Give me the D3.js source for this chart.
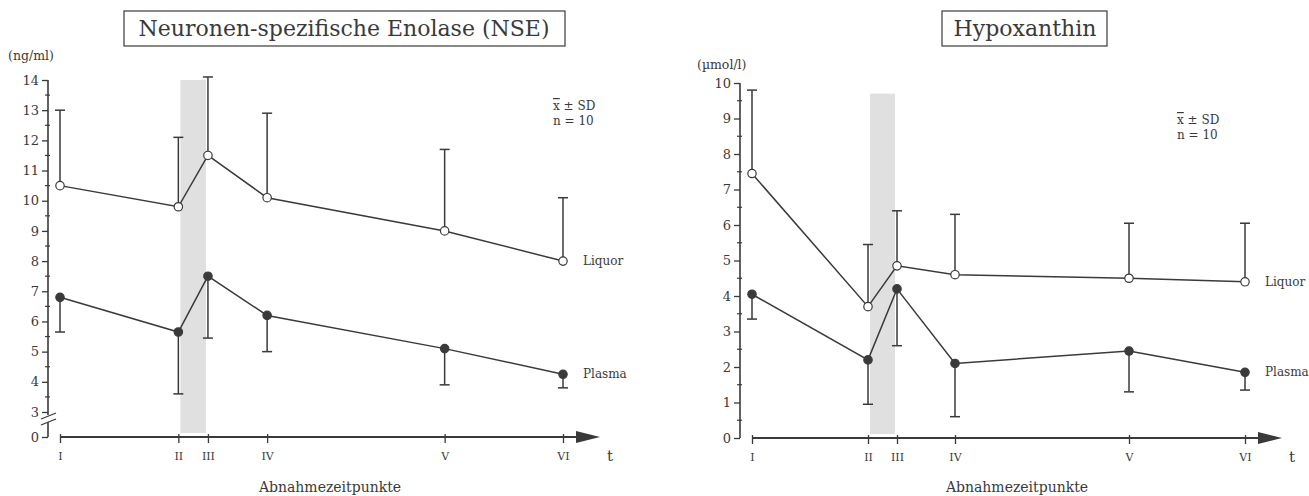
<!DOCTYPE html>
<html>
<head>
<meta charset="utf-8">
<script src="https://cdn.jsdelivr.net/npm/d3@7"></script>
<style>
  body { margin: 0; background: #fff; }
  text { font-family: "DejaVu Serif", "Liberation Serif", serif; fill: #3a3a3a; }
</style>
</head>
<body>
<div id="chart"></div>
<script>
// Abnahmezeitpunkte (sampling times), spaced by relative time
var timeLabels = ["I", "II", "III", "IV", "V", "VI"];
var timePos = [0, 4, 5, 7, 13, 17];

// NSE [ng/ml], mean and SD
var nseLiquor = [10.5, 9.8, 11.5, 10.1, 9.0, 8.0];
var nseLiquorSD = [2.5, 2.3, 2.6, 2.8, 2.7, 2.1];
var nsePlasma = [6.8, 5.65, 7.5, 6.2, 5.1, 4.25];
var nsePlasmaSD = [1.15, 2.05, 2.05, 1.2, 1.2, 0.45];

// Hypoxanthin [µmol/l], mean and SD
var hypLiquor = [7.45, 3.7, 4.85, 4.6, 4.5, 4.4];
var hypLiquorSD = [2.35, 1.75, 1.55, 1.7, 1.55, 1.65];
var hypPlasma = [4.05, 2.2, 4.2, 2.1, 2.45, 1.85];
var hypPlasmaSD = [0.7, 1.25, 1.6, 1.5, 1.15, 0.5];

var nseTicks = [0, 3, 4, 5, 6, 7, 8, 9, 10, 11, 12, 13, 14];
var hypTicks = [0, 1, 2, 3, 4, 5, 6, 7, 8, 9, 10];

var ink = "#3a3a3a";

var svg = d3.select("#chart").append("svg")
    .attr("width", 1309)
    .attr("height", 496);

var panels = [
  {
    title: "Neuronen-spezifische Enolase (NSE)", unit: "(ng/ml)",
    titleBox: [124, 565], titleX: 344,
    axisX: 48, xRange: [60, 563], arrowEnd: 600,
    yDomain: [0, 3, 14], yRange: [437, 412, 80],
    ticks: nseTicks, minorFrom: 3, minorTo: 14, brk: true,
    band: [4, 5], bandTop: 14,
    liquor: nseLiquor, liquorSD: nseLiquorSD, plasma: nsePlasma, plasmaSD: nsePlasmaSD,
    statX: 553, statY: 110, unitX: 8, unitY: 60
  },
  {
    title: "Hypoxanthin", unit: "(µmol/l)",
    titleBox: [942, 1107], titleX: 1025,
    axisX: 740, xRange: [752, 1245], arrowEnd: 1282,
    yDomain: [0, 10], yRange: [438, 83],
    ticks: hypTicks, minorFrom: 0, minorTo: 10, brk: false,
    band: [4, 5], bandTop: 9.7,
    liquor: hypLiquor, liquorSD: hypLiquorSD, plasma: hypPlasma, plasmaSD: hypPlasmaSD,
    statX: 1177, statY: 124, unitX: 697, unitY: 69
  }
];

panels.forEach(function(p) {
  var g = svg.append("g");
  var x = d3.scaleLinear().domain([0, 17]).range(p.xRange);
  var y = d3.scaleLinear().domain(p.yDomain).range(p.yRange);
  var y0 = y(0);

  // shaded interval between II and III
  g.append("rect")
    .attr("x", x(p.band[0]) + 2)
    .attr("y", y(p.bandTop))
    .attr("width", x(p.band[1]) - x(p.band[0]) - 4)
    .attr("height", y0 - 4 - y(p.bandTop))
    .attr("fill", "#e0e0e0");

  // title box
  g.append("rect")
    .attr("x", p.titleBox[0]).attr("y", 11)
    .attr("width", p.titleBox[1] - p.titleBox[0]).attr("height", 35)
    .attr("fill", "#fff").attr("stroke", ink).attr("stroke-width", 1.2);
  g.append("text")
    .attr("x", p.titleX).attr("y", 36)
    .attr("text-anchor", "middle")
    .attr("font-size", 22)
    .text(p.title);

  g.append("text")
    .attr("x", p.unitX).attr("y", p.unitY)
    .attr("font-size", 12.5)
    .text(p.unit);

  // y axis
  var yAxis = d3.axisLeft(y).tickValues(p.ticks).tickSize(6).tickPadding(3)
    .tickFormat(d3.format("d"));
  var ya = g.append("g")
    .attr("transform", "translate(" + p.axisX + ",0)")
    .call(yAxis);
  ya.select(".domain").remove();
  ya.selectAll(".tick line").attr("stroke", ink).attr("stroke-width", 1.3);
  ya.selectAll(".tick text").attr("font-size", 13).attr("fill", ink)
    .style("font-family", "DejaVu Serif, serif");

  var minor = d3.range(p.minorFrom + 0.5, p.minorTo, 1);
  g.selectAll(".minor").data(minor).enter().append("line")
    .attr("x1", p.axisX - 3).attr("x2", p.axisX + 2)
    .attr("y1", function(d) { return y(d); })
    .attr("y2", function(d) { return y(d); })
    .attr("stroke", ink).attr("stroke-width", 1.2);

  var top = y(p.ticks[p.ticks.length - 1]);
  if (p.brk) {
    var b = y(3) + 3;
    g.append("line").attr("x1", p.axisX).attr("x2", p.axisX)
      .attr("y1", top).attr("y2", b).attr("stroke", ink).attr("stroke-width", 1.6);
    g.append("line").attr("x1", p.axisX).attr("x2", p.axisX)
      .attr("y1", b + 7).attr("y2", y0).attr("stroke", ink).attr("stroke-width", 1.6);
    [b, b + 6].forEach(function(v) {
      g.append("line")
        .attr("x1", p.axisX - 7).attr("x2", p.axisX + 8)
        .attr("y1", v + 4).attr("y2", v - 2)
        .attr("stroke", ink).attr("stroke-width", 1.3);
    });
  } else {
    g.append("line").attr("x1", p.axisX).attr("x2", p.axisX)
      .attr("y1", top).attr("y2", y0).attr("stroke", ink).attr("stroke-width", 1.6);
  }

  // x axis with arrow
  var xa = g.append("g")
    .attr("transform", "translate(0," + y0 + ")")
    .call(d3.axisBottom(x).tickValues(timePos).tickSize(6).tickPadding(9)
      .tickFormat(function(d, i) { return timeLabels[i]; }));
  xa.select(".domain").remove();
  xa.selectAll(".tick line").attr("y1", -3).attr("stroke", ink).attr("stroke-width", 1.3);
  xa.selectAll(".tick text").attr("font-size", 11).attr("fill", ink)
    .style("font-family", "DejaVu Serif, serif");
  g.append("line")
    .attr("x1", x(0)).attr("x2", p.arrowEnd - 20)
    .attr("y1", y0).attr("y2", y0)
    .attr("stroke", ink).attr("stroke-width", 1.8);
  g.append("path")
    .attr("d", d3.line()([[p.arrowEnd - 24, y0 - 6], [p.arrowEnd, y0], [p.arrowEnd - 24, y0 + 6]]) + "Z")
    .attr("fill", ink);
  g.append("text")
    .attr("x", p.arrowEnd + 7).attr("y", y0 + 24)
    .attr("font-size", 15)
    .text("t");
  g.append("text")
    .attr("x", (x(0) + p.arrowEnd) / 2).attr("y", 492)
    .attr("text-anchor", "middle")
    .attr("font-size", 14)
    .text("Abnahmezeitpunkte");

  // statistics note
  var st = g.append("text").attr("x", p.statX).attr("y", p.statY).attr("font-size", 12);
  st.append("tspan").text("x").attr("text-decoration", "overline");
  st.append("tspan").text(" ± SD");
  g.append("text").attr("x", p.statX).attr("y", p.statY + 15).attr("font-size", 12)
    .text("n = 10");

  // series: liquor (open, SD up), plasma (filled, SD down)
  var series = [
    { vals: p.liquor, sd: p.liquorSD, dir: 1, fill: "#fff", name: "Liquor" },
    { vals: p.plasma, sd: p.plasmaSD, dir: -1, fill: ink, name: "Plasma" }
  ];
  var line = d3.line()
    .x(function(d) { return x(d.t); })
    .y(function(d) { return y(d.v); });

  series.forEach(function(s) {
    var pts = s.vals.map(function(v, i) {
      return { t: timePos[i], v: v, e: v + s.dir * s.sd[i] };
    });
    var sg = g.append("g");
    sg.selectAll(".err").data(pts).enter().append("line")
      .attr("x1", function(d) { return x(d.t); })
      .attr("x2", function(d) { return x(d.t); })
      .attr("y1", function(d) { return y(d.v); })
      .attr("y2", function(d) { return y(d.e); })
      .attr("stroke", ink).attr("stroke-width", 1.5);
    sg.selectAll(".cap").data(pts).enter().append("line")
      .attr("x1", function(d) { return x(d.t) - 5; })
      .attr("x2", function(d) { return x(d.t) + 5; })
      .attr("y1", function(d) { return y(d.e); })
      .attr("y2", function(d) { return y(d.e); })
      .attr("stroke", ink).attr("stroke-width", 1.5);
    sg.append("path")
      .attr("d", line(pts))
      .attr("fill", "none").attr("stroke", ink).attr("stroke-width", 1.5);
    sg.selectAll(".pt").data(pts).enter().append("circle")
      .attr("cx", function(d) { return x(d.t); })
      .attr("cy", function(d) { return y(d.v); })
      .attr("r", 4.2)
      .attr("fill", s.fill).attr("stroke", ink).attr("stroke-width", 1.2);
    var last = pts[pts.length - 1];
    sg.append("text")
      .attr("x", x(last.t) + 20).attr("y", y(last.v) + 4)
      .attr("font-size", 12)
      .text(s.name);
  });
});
</script>
</body>
</html>
